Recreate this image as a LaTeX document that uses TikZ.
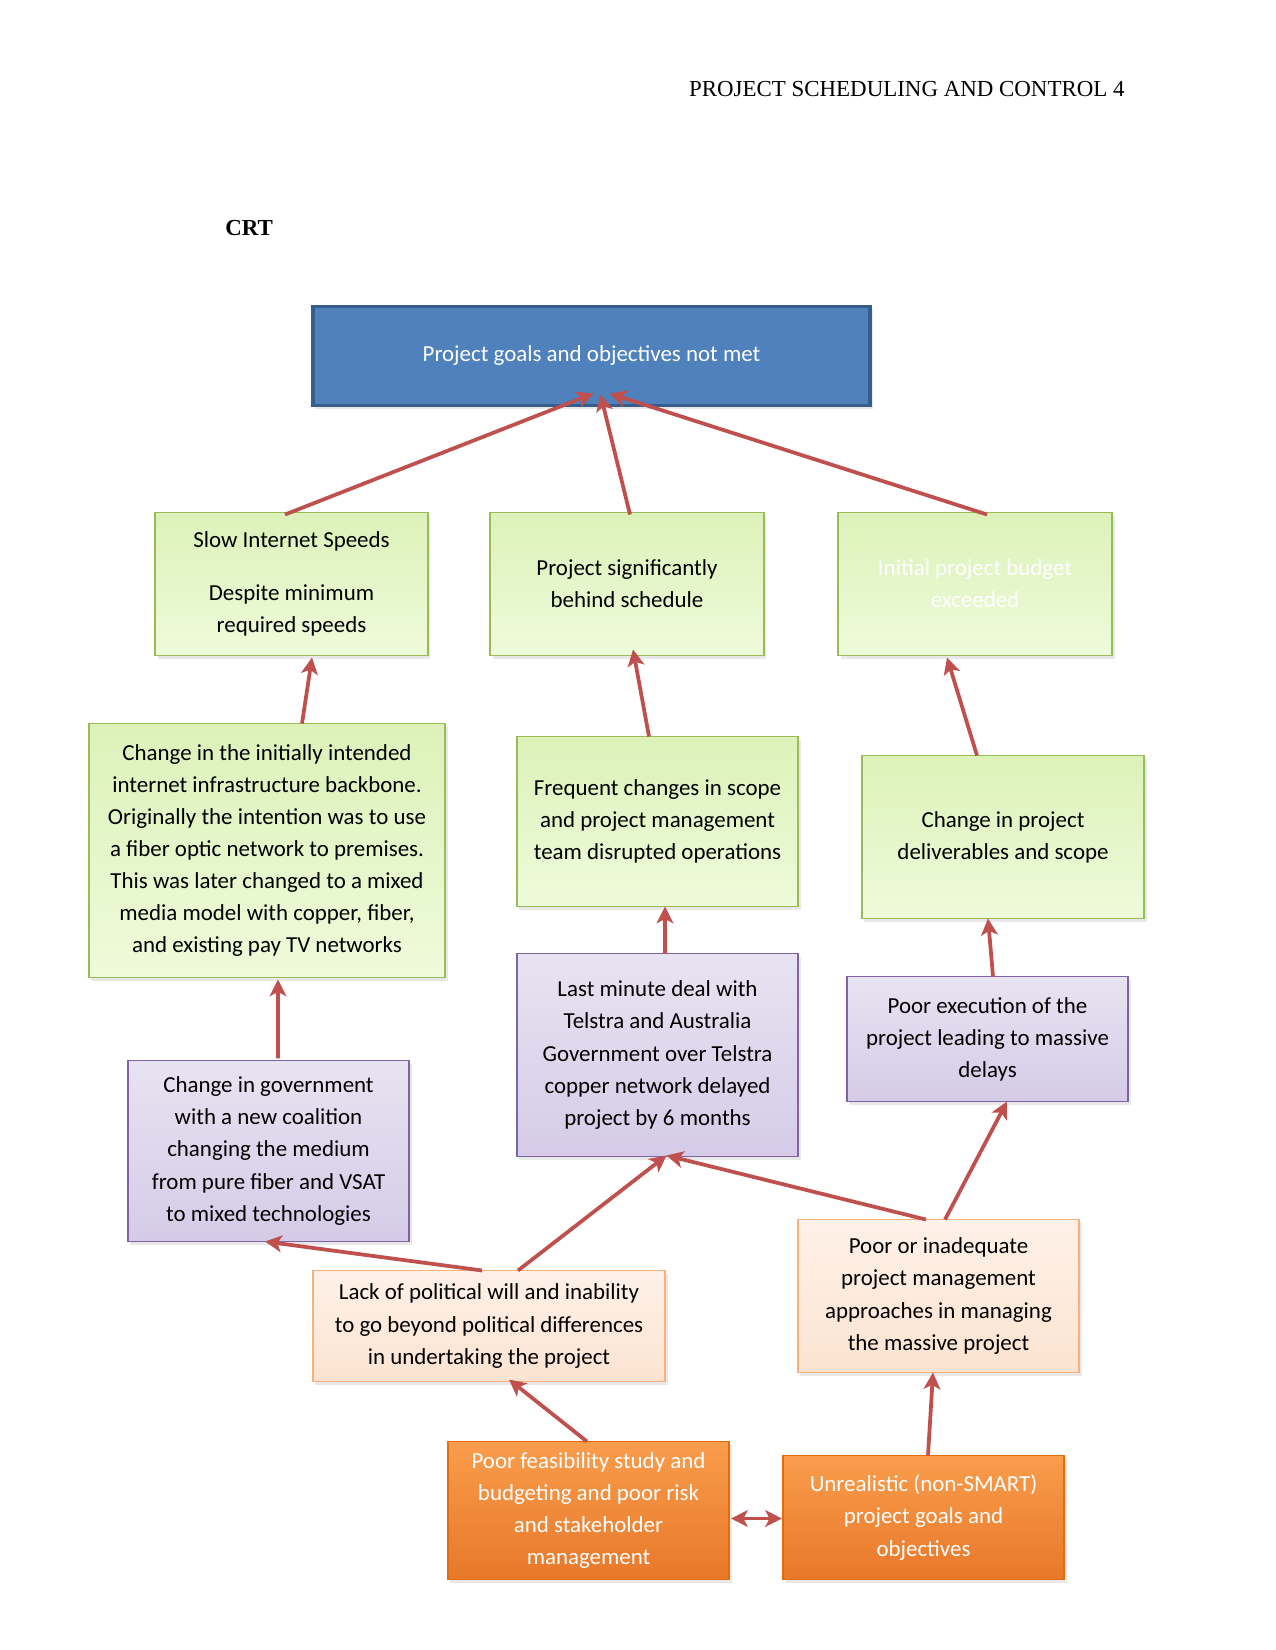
\documentclass[tikz,border=0pt]{standalone}
\usepackage{fontspec}
\setmainfont{Carlito}
\newfontfamily\hdrfont{Liberation Serif}
\usetikzlibrary{calc,arrows.meta,shadows}
\definecolor{arrowred}{HTML}{C0504D}
\definecolor{bluefill}{HTML}{4F81BD}
\definecolor{blueline}{HTML}{385D8A}
\definecolor{greentop}{HTML}{DCF2B9}
\definecolor{greenbot}{HTML}{EEFBDA}
\definecolor{greenline}{HTML}{9BBB59}
\definecolor{purptop}{HTML}{E8E3F1}
\definecolor{purpbot}{HTML}{D5CBE8}
\definecolor{purpline}{HTML}{8064A2}
\definecolor{peachtop}{HTML}{FEF1E8}
\definecolor{peachbot}{HTML}{FCE3D0}
\definecolor{peachline}{HTML}{F9B07A}
\definecolor{orgtop}{HTML}{F99D4C}
\definecolor{orgbot}{HTML}{E8782A}
\definecolor{orgline}{HTML}{E46C0A}
\tikzset{
  box/.style={rectangle, inner sep=0pt, outer sep=0pt, align=center,
    font=\fontsize{11}{15.4}\selectfont, line width=0.9pt,
    drop shadow={opacity=0.18, shadow xshift=1.2pt, shadow yshift=-1.5pt}},
  bluebox/.style={box, draw=blueline, line width=1.8pt, fill=bluefill, text=white},
  greenbox/.style={box, draw=greenline, top color=greentop, bottom color=greenbot, text=black},
  purplebox/.style={box, draw=purpline, top color=purptop, bottom color=purpbot, text=black},
  peachbox/.style={box, draw=peachline, top color=peachtop, bottom color=peachbot, text=black},
  orangebox/.style={box, draw=orgline, top color=orgtop, bottom color=orgbot, text=white},
  conn/.style={draw=arrowred, line width=1.8pt, -{Stealth[length=8pt,width=8pt,inset=2pt]}},
  dconn/.style={draw=arrowred, line width=1.8pt, {Stealth[length=8pt,width=8pt,inset=2pt]}-{Stealth[length=8pt,width=8pt,inset=2pt]}}
}
\begin{document}
\begin{tikzpicture}[x=0.48pt,y=-0.48pt]
\useasboundingbox (0,0) rectangle (1275,1650);
\fill[white] (0,0) rectangle (1275,1650);

\node[anchor=east, font=\hdrfont\fontsize{11}{13}\selectfont, inner sep=0pt] (hdr) at (1125,89) {PROJECT SCHEDULING AND CONTROL 4};
\node[anchor=west, font=\hdrfont\bfseries\fontsize{11}{13}\selectfont, inner sep=0pt] (crt) at (225,228) {CRT};

\node[bluebox, minimum width=267.4pt, minimum height=47.5pt] (top) at (591.5,356) {Project goals and objectives not met};

\node[greenbox, minimum width=131pt, minimum height=68.6pt] (A) at (291.5,584) {Slow Internet Speeds\\[10pt]Despite minimum\\required speeds};
\node[greenbox, minimum width=131.5pt, minimum height=68.6pt] (B) at (627,584) {Project significantly\\behind schedule};
\node[greenbox, minimum width=131.5pt, minimum height=68.6pt, text=white] (C) at (975,584) {Initial project budget\\exceeded};

\node[greenbox, minimum width=170.9pt, minimum height=121.9pt] (D) at (267,850.5) {Change in the initially intended\\internet infrastructure backbone.\\Originally the intention was to use\\a fiber optic network to premises.\\This was later changed to a mixed\\media model with copper, fiber,\\and existing pay TV networks};
\node[greenbox, minimum width=134.9pt, minimum height=81.6pt] (E) at (657.5,821.5) {Frequent changes in scope\\and project management\\team disrupted operations};
\node[greenbox, minimum width=135.4pt, minimum height=78.2pt] (F) at (1003,837) {Change in project\\deliverables and scope};

\node[purplebox, minimum width=134.9pt, minimum height=86.9pt] (G) at (268.5,1151) {Change in government\\with a new coalition\\changing the medium\\from pure fiber and VSAT\\to mixed technologies};
\node[purplebox, minimum width=134.9pt, minimum height=97.4pt] (H) at (657.5,1055) {Last minute deal with\\Telstra and Australia\\Government over Telstra\\copper network delayed\\project by 6 months};
\node[purplebox, minimum width=134.9pt, minimum height=60pt] (I) at (987.5,1039) {Poor execution of the\\project leading to massive\\delays};

\node[peachbox, minimum width=169pt, minimum height=53.3pt] (J) at (489,1326) {Lack of political will and inability\\to go beyond political differences\\in undertaking the project};
\node[peachbox, minimum width=134.9pt, minimum height=73.4pt] (K) at (938.5,1296) {Poor or inadequate\\project management\\approaches in managing\\the massive project};

\node[orangebox, minimum width=134.9pt, minimum height=66.2pt] (L) at (588.5,1510.5) {Poor feasibility study and\\budgeting and poor risk\\and stakeholder\\management};
\node[orangebox, minimum width=134.9pt, minimum height=59.5pt] (M) at (923.5,1517.5) {Unrealistic (non-SMART)\\project goals and\\objectives};

% connectors
\draw[conn] ($(A.north)+(-6.5,2)$) -- ($(top.south)+(2,-12)$);
\draw[conn] ($(B.north)+(3,2)$) -- ($(top.south)+(9,-11)$);
\draw[conn] ($(C.north)+(12,2)$) -- ($(top.south)+(18,-12)$);

\draw[conn] ($(D.north)+(35,0)$) -- ($(A.south)+(20.5,2)$);
\draw[conn] ($(E.north)+(-8.5,0)$) -- ($(B.south)+(6,-6)$);
\draw[conn] ($(F.north)+(-26,0)$) -- ($(C.south)+(-28,2)$);

\draw[conn] ($(G.north)+(9.5,-2)$) -- ($(D.south)+(11,2)$);
\draw[conn] ($(H.north)+(7.5,0)$) -- ($(E.south)+(7.5,0)$);
\draw[conn] ($(I.north)+(5.5,0)$) -- ($(F.south)+(-15,0)$);

\draw[conn] ($(J.north)+(-7,0)$) -- ($(G.south)+(-3.5,0)$);
\draw[conn] ($(J.north)+(29,0)$) -- ($(H.south)+(9,-1)$);
\draw[conn] ($(K.north)+(-12.5,0)$) -- ($(H.south)+(9,-1)$);
\draw[conn] ($(K.north)+(6.5,0)$) -- ($(I.south)+(19.5,0)$);

\draw[conn] ($(L.north)+(-1.5,0)$) -- ($(J.south)+(20,-2)$);
\draw[conn] ($(M.north)+(4.5,0)$) -- ($(K.south)+(-5.5,0)$);
\draw[dconn] ($(L.east)+(2,8)$) -- ($(M.west)+(-1,1)$);
\end{tikzpicture}
\end{document}
